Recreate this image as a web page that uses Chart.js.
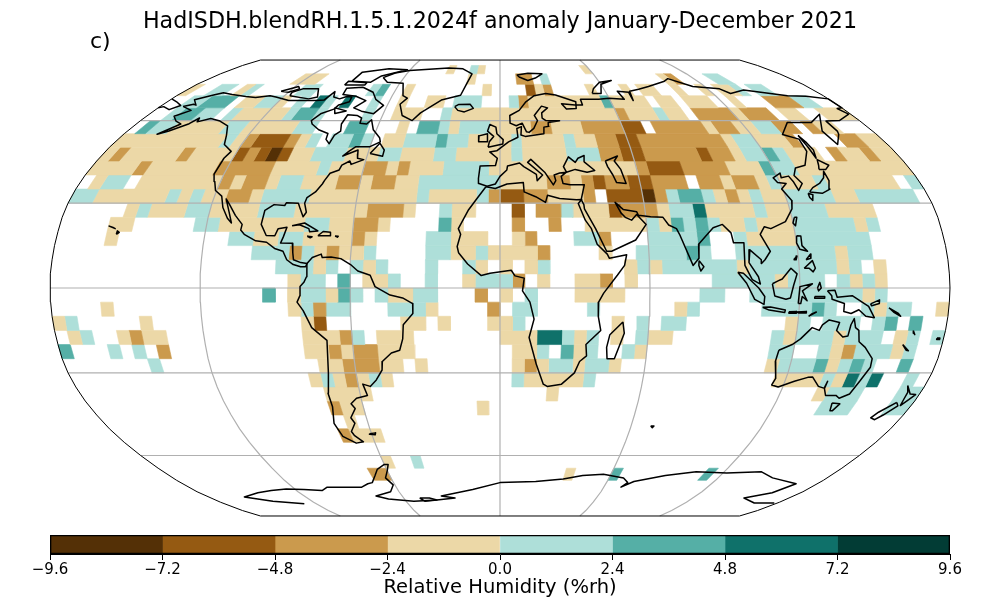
<!DOCTYPE html>
<html>
<head>
<meta charset="utf-8">
<title>HadISDH anomaly</title>
<script src="https://cdn.jsdelivr.net/npm/chart.js@4"></script>
<style>
html, body { margin: 0; background: #fff; overflow: hidden; }
canvas { position: absolute; left: 0; }
#map { top: 0; }
#bar { top: 534px; }
</style>
</head>
<body>
<canvas id="map" width="1000" height="600"></canvas>
<canvas id="bar" width="1000" height="66"></canvas>
<script>
"use strict";

// colour classes, anomaly in %rh
const levelEdges = [-9.6, -7.2, -4.8, -2.4, 0, 2.4, 4.8, 7.2, 9.6];
const levelColors = ['#543006', '#955a12', '#cb9a4d', '#ecd8a7', '#aedfd9', '#55afa6', '#0f716a', '#023c35'];
const barTicks = [-9.6, -7.2, -4.8, -2.4, 0, 2.4, 4.8, 7.2, 9.6];

// read-off anomaly per class
const D = -8.4, B = -6, C = -3.6, T = -1.2, L = 1.2, M = 3.6, G = 6;

// grid cell runs per 5 degree band: [lon west, lon east, anomaly], named by south edge
const n80 = [[-35,-30,T],[-20,-15,L],[-15,-10,T],[55,60,T]];
const n75 = [[-125,-110,T],[-20,-15,T],[10,20,C],[25,30,L],[100,105,T],[105,110,C],[130,140,L]];
const n70 = [[-180,-175,T],[-165,-155,L],[-150,-145,T],[-145,-140,L],[-115,-105,L],[-75,-70,L],[-70,-65,M],[-55,-50,T],[-10,-5,T],[15,20,B],[20,25,T],[25,30,C],[50,55,T],[70,75,T],[80,90,T],[100,105,T],[115,120,T],[125,135,T],[135,140,L],[145,155,L]];
const n65 = [[-170,-160,L],[-160,-145,M],[-140,-130,T],[-130,-120,L],[-120,-115,T],[-110,-105,L],[-100,-95,G],[-95,-90,L],[-85,-80,G],[-70,-65,L],[-55,-50,T],[-40,-30,T],[-25,-10,L],[5,10,L],[10,15,C],[15,55,T],[55,60,M],[60,80,T],[85,95,T],[100,115,T],[125,130,T],[145,160,C],[160,170,L]];
const n60 = [[-170,-165,L],[-165,-155,M],[-155,-145,L],[-140,-135,L],[-135,-110,T],[-110,-105,L],[-105,-95,M],[-95,-90,L],[-70,-65,L],[-55,-40,T],[-30,-25,L],[-25,60,T],[60,65,C],[65,80,T],[80,85,L],[85,95,T],[100,120,C],[120,125,T],[125,140,C],[145,155,T],[165,180,T]];
const n55 = [[-175,-170,M],[-170,-160,L],[-160,-135,T],[-135,-125,L],[-125,-100,T],[-100,-90,L],[-75,-65,M],[-50,-45,T],[-40,-30,M],[-30,-25,L],[-25,-20,T],[-20,-5,L],[-5,15,T],[15,25,C],[25,40,T],[40,60,C],[60,70,B],[75,100,C],[100,105,T],[105,115,C],[115,125,T],[125,135,L],[135,145,C],[150,155,C],[155,165,T]];
const n50 = [[-180,-130,T],[-130,-125,L],[-125,-120,T],[-120,-115,C],[-115,-100,B],[-100,-95,C],[-95,-90,T],[-90,-85,L],[-80,-70,L],[-70,-65,M],[-65,-60,L],[-55,-45,T],[-45,-30,L],[-30,-25,M],[-25,-15,L],[-15,5,T],[5,10,L],[10,30,T],[30,35,L],[35,45,T],[45,55,C],[55,65,B],[65,105,C],[105,110,T],[110,120,L],[120,135,T],[135,140,C],[160,170,C],[170,180,T]];
const n45 = [[-180,-175,T],[-175,-170,C],[-170,-145,T],[-145,-140,C],[-140,-120,T],[-120,-115,B],[-115,-110,C],[-110,-105,B],[-105,-100,D],[-100,-95,B],[-95,-85,T],[-85,-70,L],[-70,-55,T],[-55,-45,L],[-45,-30,T],[-30,-20,L],[-20,5,T],[5,10,L],[10,30,T],[30,45,L],[45,55,C],[55,65,B],[65,90,C],[90,95,B],[95,105,C],[105,110,T],[110,120,L],[120,125,M],[125,130,L],[130,145,T],[150,155,C],[155,165,T],[165,170,C],[170,180,T]];
const n40 = [[-180,-160,T],[-160,-155,C],[-155,-125,T],[-125,-100,C],[-100,-80,T],[-80,-75,L],[-75,-60,T],[-60,-50,C],[-50,-45,T],[-45,-40,C],[-40,-25,T],[-25,-5,L],[-5,60,T],[60,65,C],[65,80,B],[80,100,C],[100,115,T],[115,120,M],[120,130,L],[130,180,T]];
const n35 = [[-175,-170,T],[-170,-160,L],[-155,-120,T],[-120,-115,C],[-115,-110,T],[-110,-100,C],[-100,-95,T],[-95,-85,L],[-85,-70,T],[-70,-60,C],[-60,-55,T],[-55,-45,C],[-45,-35,T],[-35,0,L],[0,20,T],[20,30,C],[30,35,T],[35,40,C],[40,45,B],[45,55,C],[55,65,B],[65,80,C],[85,95,C],[95,100,T],[100,110,C],[110,115,T],[115,120,L],[120,135,T],[135,140,L],[140,170,T],[175,180,L]];
const n30 = [[-180,-170,L],[-170,-140,T],[-140,-135,L],[-135,-130,T],[-130,-125,L],[-125,-115,T],[-115,-105,C],[-105,-100,T],[-100,-80,L],[-80,-35,T],[-35,-30,L],[-30,-10,T],[-10,-5,L],[-5,0,C],[0,10,B],[10,20,C],[20,35,T],[35,40,C],[45,60,B],[60,65,D],[65,70,C],[70,75,L],[75,85,M],[85,90,L],[90,95,T],[95,100,C],[100,105,T],[105,110,L],[110,120,T],[120,140,L],[140,150,T],[150,175,L]];
const n25 = [[-155,-150,T],[-150,-145,L],[-145,-130,T],[-130,-120,L],[-120,-100,T],[-100,-85,L],[-85,-55,T],[-55,-40,C],[-40,-35,T],[-25,-20,L],[-20,-10,T],[5,10,B],[15,25,C],[25,30,L],[30,45,T],[45,50,B],[50,65,C],[65,70,T],[70,80,L],[80,85,G],[85,105,T],[105,110,L],[110,120,T],[120,135,L],[135,155,T]];
const n20 = [[-160,-150,T],[-125,-115,L],[-115,-80,T],[-80,-70,L],[-70,-60,T],[-60,-50,C],[-50,-45,T],[-25,-20,M],[-20,-15,T],[5,10,C],[20,25,C],[35,60,T],[60,65,L],[65,70,T],[70,75,M],[75,80,L],[80,85,M],[85,90,L],[90,100,T],[100,105,L],[105,120,T],[120,145,L],[145,150,T],[150,155,L]];
const n15 = [[-160,-155,T],[-110,-100,L],[-100,-90,T],[-90,-80,L],[-80,-60,T],[-60,-55,C],[-55,-50,T],[-30,-20,L],[-20,-5,T],[5,10,T],[10,15,C],[30,40,L],[40,45,C],[60,80,L],[80,85,M],[95,100,L],[100,120,T],[120,150,L]];
const n10 = [[-100,-85,L],[-85,-80,C],[-80,-75,L],[-75,-70,T],[-70,-65,C],[-65,-55,T],[-55,-50,L],[-30,-20,L],[-20,-10,T],[-10,-5,L],[-5,15,T],[15,20,C],[40,45,T],[55,75,L],[75,80,M],[80,85,L],[95,135,L],[135,140,T],[140,150,L]];
const n5 = [[-90,-75,L],[-75,-70,T],[-70,-65,L],[-60,-55,L],[-55,-50,T],[-50,-45,L],[-30,-25,L],[-15,-10,L],[-10,-5,T],[0,5,T],[10,15,T],[15,20,L],[50,55,T],[55,60,L],[60,65,T],[65,95,L],[95,100,T],[100,135,L],[135,140,T],[140,145,L],[150,155,T]];
const n0 = [[-85,-80,T],[-80,-70,L],[-65,-60,M],[-55,-45,T],[-45,-40,L],[-30,-25,L],[-15,-10,T],[-10,5,L],[5,10,C],[15,20,T],[30,40,T],[40,45,C],[50,55,T],[85,110,L],[110,115,T],[115,130,L],[135,140,L],[140,145,T],[145,150,L],[150,155,T]];
const s5 = [[-95,-90,M],[-85,-80,T],[-80,-70,L],[-70,-65,T],[-65,-60,M],[-60,-55,L],[-50,-45,L],[-45,-35,T],[-35,-25,L],[-10,-5,C],[0,5,T],[10,15,L],[30,50,T],[80,90,L],[100,145,L],[145,150,T],[150,155,L]];
const s10 = [[-160,-155,T],[-85,-80,T],[-80,-75,L],[-75,-70,C],[-70,-60,L],[-45,-30,L],[-30,-25,T],[-5,0,C],[5,15,L],[35,40,L],[70,75,T],[75,80,L],[105,125,L],[125,130,M],[130,135,L],[145,150,L],[150,155,T],[155,165,L],[175,180,T]];
const s15 = [[-180,-175,T],[-175,-170,L],[-145,-140,T],[-80,-75,T],[-75,-70,B],[-40,-30,T],[-25,-20,T],[-5,5,T],[5,10,L],[45,50,T],[55,60,L],[65,75,L],[115,120,T],[120,125,L],[130,145,L],[150,155,L],[155,160,M],[165,170,M]];
const s20 = [[-175,-170,T],[-170,-165,L],[-155,-150,T],[-150,-145,C],[-145,-135,T],[-80,-65,T],[-65,-60,C],[-60,-55,L],[-50,-35,T],[0,15,T],[15,25,G],[25,30,L],[30,35,T],[35,40,L],[45,50,T],[55,60,L],[60,70,T],[110,115,L],[115,120,T],[120,135,L],[135,140,T],[140,155,L],[160,165,T],[165,170,L],[175,180,L]];
const s25 = [[-180,-175,M],[-160,-155,L],[-150,-145,L],[-140,-135,C],[-80,-70,T],[-70,-65,C],[-65,-60,T],[-60,-50,C],[-50,-35,T],[5,15,T],[15,20,L],[25,30,M],[30,35,T],[35,40,L],[50,55,L],[55,60,T],[110,120,L],[130,135,L],[135,140,T],[140,145,C],[145,160,L],[160,165,T],[165,170,L]];
const s30 = [[-145,-140,L],[-75,-65,T],[-65,-50,C],[-50,-40,T],[-35,-30,T],[5,10,T],[10,15,C],[15,20,T],[20,30,L],[30,35,T],[35,45,L],[45,50,T],[110,115,T],[115,130,L],[130,135,M],[135,140,T],[140,145,L],[145,150,M],[150,155,L],[165,170,M]];
const s35 = [[-80,-75,T],[-75,-70,L],[-70,-65,T],[-65,-60,C],[-60,-55,T],[-55,-50,L],[-50,-45,T],[5,10,L],[10,35,T],[35,40,L],[115,135,T],[135,140,L],[140,145,T],[145,150,G],[150,155,L],[155,160,G],[170,175,L]];
const s40 = [[-75,-55,T],[20,25,T],[135,140,T],[140,155,L],[170,180,L]];
const s45 = [[-75,-70,C],[-70,-60,T],[-10,-5,T],[140,155,L],[170,180,L]];
const s50 = [[-70,-65,T]];
const s55 = [[-75,-70,C],[-70,-55,T]];
const s65 = [[-60,-55,T],[-45,-40,L]];
const s70 = [[-70,-60,C],[35,40,T],[60,65,M],[110,115,M]];

const bands = [
    [80, n80], [75, n75], [70, n70], [65, n65], [60, n60], [55, n55], [50, n50], [45, n45], [40, n40],
    [35, n35], [30, n30], [25, n25], [20, n20], [15, n15], [10, n10], [5, n5], [0, n0], [-5, s5],
    [-10, s10], [-15, s15], [-20, s20], [-25, s25], [-30, s30], [-35, s35], [-40, s40], [-45, s45],
    [-50, s50], [-55, s55], [-65, s65], [-70, s70]
];

// coastlines as lon, lat
const northAmerica = [[-168,65.6],[-164,66.5],[-162,66.1],[-166.8,68.3],[-163,69.5],[-160,70.3],[-156.5,71.3],[-150,70.5],[-141,69.7],[-135,69.3],[-128,70],[-124,69.5],[-115,68],[-108,68],[-100,68],[-96,68.2],[-94,71.8],[-92,69.5],[-88,68.7],[-85,69.7],[-82,69.5],[-81.5,67.5],[-86,66.2],[-87,64.5],[-92,62.8],[-94.5,60],[-93,58.7],[-88,56.5],[-82.5,55.1],[-82,52.9],[-79.5,51.3],[-79,54.5],[-77,56],[-78.5,58.7],[-78,62.3],[-73,62],[-70,61],[-69.5,59],[-66,58.7],[-64.5,60.3],[-61.5,56.5],[-57,53.5],[-56,52],[-60,50.2],[-66.5,50.2],[-69,48.5],[-71,46.8],[-65,49],[-64.5,47.5],[-64,46],[-61,45.5],[-66,43.8],[-67,45],[-70,43.5],[-70.5,41.8],[-74,40.6],[-75.5,38],[-76,36.8],[-78,34],[-81,32],[-81.4,30],[-80,26.8],[-81,25.2],[-82.8,28],[-84,30],[-89,30.2],[-89.5,29.2],[-94,29.5],[-97.3,27.5],[-97.7,22.5],[-95,18.6],[-91.5,18.5],[-90.5,21],[-87,21.5],[-88,18],[-88.8,15.9],[-84,15.8],[-83.5,12.5],[-83,10],[-80,9],[-77.5,8.7],[-78,7.5],[-80,7.5],[-83,8.3],[-85.7,10],[-87.5,13],[-91,14],[-94.5,16.2],[-99,16.7],[-104,19],[-105.7,20.5],[-105.5,22.5],[-109,25.7],[-112.5,29.5],[-114.7,31.5],[-112,27],[-110,23],[-112,24.7],[-115,28.5],[-117,32.5],[-120.5,34.5],[-122.5,37.7],[-124.3,40.3],[-124,46],[-122.7,48.5],[-128,51],[-130.5,54.5],[-134,58],[-140,59.8],[-146,60.8],[-151,59.5],[-152,61],[-154,58.8],[-160,56],[-164,54.8],[-158,58.7],[-162,59.8],[-166,61.7],[-161,64],[-168,65.6]];
const southAmerica = [[-77.5,8.7],[-75.5,10.8],[-72,12],[-71.5,10.8],[-68,11],[-64,10.4],[-60,8.3],[-57,6],[-52,4.5],[-50,0.5],[-44,-2.5],[-39,-3.5],[-35,-5.5],[-35,-9],[-39,-13],[-39.5,-18],[-41,-22],[-44.5,-23],[-48.5,-26],[-49,-29],[-52,-32.5],[-55,-34.8],[-58,-34],[-57,-38],[-62,-39],[-65,-41],[-63.8,-42.7],[-67,-46],[-66,-48],[-69,-51],[-68.4,-52.4],[-65.3,-54.8],[-69,-55.3],[-74,-52.8],[-75.5,-48],[-73.5,-42],[-73.7,-37.2],[-71.5,-30],[-70.3,-18.5],[-76,-14],[-79,-8],[-81.3,-5],[-80,-2.5],[-80,0.5],[-78.5,2],[-77.5,4],[-77.5,7],[-77.5,8.7]];
const africa = [[-6,35.8],[-2,35.2],[3,36.8],[10,37.3],[10.2,34],[15,32.3],[19,30.3],[20,32.8],[25,31.7],[32,31.2],[34.2,31.3],[32.6,29.9],[35,24],[37.3,21],[39.3,15.5],[43.2,12],[44,10.5],[51,11.8],[50,8],[47,4.5],[41.5,-1.8],[39.5,-5],[39.5,-10],[40.7,-15],[35,-20],[35.5,-24],[32.8,-26],[31,-30],[26,-34],[20,-34.8],[18.3,-34],[15,-27],[11.8,-17.5],[13.7,-11],[12,-5],[9,-1],[9.7,3.5],[6,4.3],[4.5,6.3],[-4,5.2],[-7.5,4.4],[-13,8.5],[-16.7,12.5],[-17.3,14.7],[-16,19],[-17,21],[-13,27.7],[-9.8,31.5],[-6,35.8]];
const eurasia = [[-5.5,36],[-9,37],[-9.3,38.8],[-8.8,43.2],[-2,43.4],[-1.2,46],[-4.7,48.3],[-1.5,48.7],[1.5,50.5],[4,52],[8.5,53.7],[8.2,57],[10.5,57.7],[10,54.5],[12,54],[18.5,54.7],[21,55],[21.5,57.5],[24,57.8],[24,59.3],[29.8,59.9],[23,60],[21.3,61],[21.5,63],[25,65],[22,65.7],[17.5,62],[18.8,60],[16.5,57],[14,55.5],[12.8,55.7],[11,59],[8,58],[5,59],[5,62],[10,64],[14,67.5],[19,70],[25.7,71],[31,70.3],[41,67.5],[40,64.7],[34.8,64.5],[33,66.7],[40,66.2],[44,66.2],[44,68.5],[54,68.5],[60,69],[68,68.5],[67,72],[73,71.5],[72.5,68],[74,72],[80,72.8],[87,74],[100,76.5],[104,77.7],[113,74],[127,73],[130,71],[140,72.5],[160,70],[170,69.8],[180,68.7],[180,65],[177,64.7],[179,62.5],[170,60],[163,59.8],[163,56],[162,54.8],[156.8,51],[155.7,56],[164,62.5],[155,59.3],[143,59.3],[135,54.7],[141,53],[140,48.5],[135,43.5],[130,42.5],[127.5,39.8],[129.4,37],[126.5,34.5],[126,37.5],[125,39.6],[121.5,39],[122,40.7],[118,39],[119,37.3],[122.5,37],[119.5,35],[122,31],[121,28],[117,23.5],[110.5,21],[108,21.7],[105.8,19],[109,13],[106.5,10],[105,8.7],[105,10],[100.8,13.5],[100,9],[103.5,4],[104.2,1.4],[101,3],[98.3,8],[98.7,16],[94.5,16],[94,19.5],[91,22.5],[87,21.3],[80.3,15.5],[80,10.5],[77.5,8],[73,19],[72,21],[69,22.3],[67,25],[62,25.2],[57,25.7],[56.5,27],[51,27.8],[48,30.3],[50,26.5],[51.5,25],[54,24],[56.3,26],[59.8,22.5],[55,17],[45,13],[43,13],[39,21],[35,28],[34.9,29.5],[34,31.3],[36,36.5],[30,36.5],[27,37],[26.5,39.5],[29,41],[33,42],[38,41],[41.5,41.6],[37.5,44.7],[38,47],[35,46],[33.5,44.5],[30.8,46.5],[28,43],[29,41],[26,40.7],[23.5,40],[24,38],[22.8,36.5],[19.5,41],[13.8,45.6],[12.3,44.5],[18.5,40],[16,38],[15.8,40.2],[10.5,43],[8.7,44.3],[3.3,43.2],[3,41.8],[0,39.5],[-2,36.8],[-5.5,36]];
const chukotka = [[-180,68.7],[-175,67.5],[-170,66],[-173,64.3],[-178,65.5],[-180,65]];
const caspian = [[47,45],[53,46.8],[51,45],[53,42],[54,37],[50,37.3],[49,40],[47.5,43],[47,45]];
const greenland = [[-73,78.2],[-68,76],[-58,75.5],[-54,70],[-51,69],[-53.5,66.5],[-50,62],[-44,60],[-41,63],[-32,68.2],[-22,70.2],[-20,75],[-18,80],[-25,83],[-35,83.5],[-60,82],[-68,80.5],[-73,78.2]];
const antarctica = [[-128,-81],[-145,-79.5],[-158,-77.5],[-145,-75.5],[-135,-74.5],[-125,-73.8],[-115,-74],[-105,-74.5],[-100,-73],[-90,-73],[-80,-73],[-75,-71.5],[-72,-71],[-68,-68],[-65,-65.5],[-60,-63.5],[-58,-63.5],[-60,-66],[-63,-69],[-61,-72],[-65,-75],[-76,-77],[-70,-78.5],[-55,-79.5],[-40,-79],[-28,-78],[-36,-77],[-16,-74],[0,-71],[20,-70.5],[35,-69.5],[45,-68],[56,-67.5],[68,-69],[72,-71],[70,-73],[75,-70.5],[90,-68],[105,-66.5],[122,-67],[140,-66.5],[150,-69],[168,-71.5],[163,-75.5],[152,-78],[165,-80.5],[178,-80.5]];
const islands = [
    [[-5.5,50],[1.3,51.2],[1.5,52.8],[-1.5,55],[-2,57.5],[-5,58.5],[-6,56],[-3,54],[-5,52],[-5.5,50]],
    [[-10,52],[-6,52],[-6,55],[-10,54.2],[-10,52]],
    [[-24,65.5],[-22,64],[-18.5,63.4],[-14,64.8],[-16,66.5],[-22,66.4],[-24,65.5]],
    [[12,78.5],[17,76.8],[22,78],[27,80],[18,80.3],[11,79.5],[12,78.5]],
    [[52,71],[57,71],[60,75],[68,76.8],[60,76],[54,73],[52,71]],
    [[-80,73.7],[-72,71.5],[-68,68.5],[-62,66],[-65,62.7],[-72,63.7],[-77,65],[-73,68],[-80,69.8],[-88,70.5],[-89,73.3],[-80,73.7]],
    [[-117,70],[-105,68.7],[-101,69.5],[-105,73],[-114,73],[-118,71.5],[-117,70]],
    [[-125,72],[-118,74],[-116,73],[-120,71.5],[-125,72]],
    [[-90,76.5],[-78,76],[-75,79],[-62,82.5],[-75,83],[-90,81],[-90,76.5]],
    [[-92,74.7],[-80,74.7],[-80,75.7],[-92,76.5],[-92,74.7]],
    [[-87,65],[-80,63.8],[-85,62.8],[-87,65]],
    [[-59,47.7],[-53,46.7],[-53,49],[-56,51.5],[-59,47.7]],
    [[-85,22],[-80,23],[-74.2,20.2],[-77.5,19.9],[-78,21],[-82,22.4],[-85,22]],
    [[-74,18.5],[-69,18.5],[-69,19.7],[-72,20],[-74,18.5]],
    [[-78.3,18.3],[-76.3,18.1],[-77,17.8],[-78.3,18.3]],
    [[-67,18.4],[-65.7,18.3],[-66,18],[-67,18.4]],
    [[-156,19],[-155,19.7],[-155.9,20.2],[-156,19]],
    [[-160,22],[-158,21.4],[-157,21],[-160,22]],
    [[49.5,-12],[50.3,-16],[47,-25],[44,-25],[43.5,-21],[44.5,-16.5],[49.5,-12]],
    [[80,9.7],[81.8,7.5],[80.5,6],[79.8,8],[80,9.7]],
    [[130.9,34],[136,33.5],[140,35],[141.5,38],[141.5,41.3],[139.8,39],[136.8,37],[133,35.5],[130.9,34]],
    [[130,33.5],[131.8,33],[130.8,31],[130,32],[130,33.5]],
    [[140,42],[143,42],[145.5,43.5],[142,45.5],[141,43.5],[140,42]],
    [[142,54.3],[143,52],[143.5,49],[142,46],[142,50],[142,54.3]],
    [[121,25],[122,25],[120.8,22],[120,23],[121,25]],
    [[120.5,18.5],[122.2,18.4],[122,15],[124,13],[121,13.7],[120,16],[120.5,18.5]],
    [[122,7],[125.5,9.7],[126.5,7],[125.5,5.7],[124,7],[122,7]],
    [[123,10],[125,12],[125,10.5],[123,10]],
    [[118,10],[119.5,11.3],[119,10],[118,10]],
    [[95.3,5.6],[97.5,5.2],[103.5,0],[106,-3],[105.8,-5.8],[102,-4],[98.7,1.7],[95.3,5.6]],
    [[105.3,-6.8],[108.5,-6.7],[114.5,-7.8],[114.3,-8.7],[108,-7.8],[105.3,-6.8]],
    [[109,1.5],[111.3,2.5],[113,3.2],[116.7,7],[119,5],[117.5,1],[116.3,-3.5],[114.5,-4],[110,-2.8],[109,1.5]],
    [[119.5,-5.5],[120,0.5],[125,1.5],[121,-1],[123,-4.5],[121,-3],[120.5,-5.5],[119.5,-5.5]],
    [[131,-1],[134,-0.8],[135,-3.3],[141,-2.7],[146,-5.5],[147.8,-6.5],[150.5,-10.5],[147,-10],[144,-7.7],[141,-9],[138,-8.3],[138,-5.5],[133,-4],[132.8,-2.7],[131,-1]],
    [[124,-10],[127,-8.5],[125,-9.3],[124,-10]],
    [[119,-8.5],[123,-8.3],[123,-8.8],[119.8,-8.8],[119,-8.5]],
    [[116,-8.4],[119,-8.3],[119,-8.9],[116,-8.9],[116,-8.4]],
    [[127,0],[128,2],[128.5,0],[127.5,-1],[127,0]],
    [[126,-3],[130,-3],[130,-3.6],[126,-3.6],[126,-3]],
    [[148.5,-5.6],[152,-4.2],[152,-5.5],[149,-6.3],[148.5,-5.6]],
    [[156,-7],[160,-9],[161,-10],[158,-8.5],[156,-7]],
    [[164,-20],[167,-22.2],[166,-22],[164,-20]],
    [[167,-15],[168,-16.5],[167.5,-16],[167,-15]],
    [[177.3,-17.7],[178.5,-17.7],[178.5,-18.2],[177.3,-18.2],[177.3,-17.7]],
    [[114,-22],[113.5,-26],[115.7,-32],[115,-34.3],[118,-35],[124,-33],[129,-31.6],[131,-31.5],[135,-34.8],[138,-35.5],[138,-33],[137.8,-35.3],[140,-38],[144.5,-38],[146.5,-39],[150,-37.5],[151.5,-33],[153.5,-28],[153,-25],[149,-21],[146,-19],[145,-15],[143.5,-14],[142.5,-10.8],[141.5,-13],[141,-17],[139,-17.3],[136,-15],[136.8,-12.2],[132.5,-11.3],[130,-13],[129,-15],[126,-14],[122,-18],[119,-20],[114,-22]],
    [[144.7,-40.7],[148.3,-41],[147,-43.5],[146,-43.5],[144.7,-40.7]],
    [[172.7,-34.5],[176,-37.5],[178.5,-37.7],[177,-39.5],[175.3,-41.6],[174.8,-39.8],[174.5,-37],[172.7,-34.5]],
    [[172.7,-40.5],[174.3,-41.7],[171,-45],[169,-46.7],[166.5,-46],[168,-44],[172.7,-40.5]],
    [[-61,-51.8],[-58,-51.5],[-58.5,-52.2],[-61,-52],[-61,-51.8]],
    [[69,-49],[70.5,-49],[70,-49.6],[69,-49]],
    [[-50,-78],[-44,-78],[-40,-79],[-48,-79.5],[-50,-78]]
];

// Robinson table, every 5 degrees
const robinsonLen = [1, 0.9986, 0.9954, 0.99, 0.9822, 0.973, 0.96, 0.9427, 0.9216, 0.8962, 0.8679, 0.835, 0.7986, 0.7597, 0.7186, 0.6732, 0.6213, 0.5722, 0.5322];
const robinsonDepth = [0, 0.062, 0.124, 0.186, 0.248, 0.31, 0.372, 0.434, 0.4958, 0.5571, 0.6176, 0.6769, 0.7346, 0.7903, 0.8435, 0.8936, 0.9394, 0.9761, 1];

function tableAt(table, lat) {
    const p = Math.min(Math.abs(lat) / 5, 17.999);
    const i = Math.floor(p);
    return table[i] + (table[i + 1] - table[i]) * (p - i);
}

// lon, lat to the map's own units
function project(lon, lat) {
    return { x: lon * tableAt(robinsonLen, lat), y: Math.sign(lat) * tableAt(robinsonDepth, lat) };
}

function colorFor(v) {
    for (let i = 0; i < levelColors.length; i++) {
        if (v < levelEdges[i + 1]) return levelColors[i];
    }
    return levelColors[levelColors.length - 1];
}

const datasets = [];

// grid cells, lowest layer
bands.forEach(([south, runs]) => {
    runs.forEach(([w, e, v]) => {
        const n = south + 5;
        const col = colorFor(v);
        datasets.push({
            data: [project(w, n), project(e, n), project(e, south), project(w, south), project(w, n)],
            backgroundColor: col, borderColor: col, borderWidth: 0.6,
            fill: 'shape', pointRadius: 0, order: 3
        });
    });
});

function addLine(points, color, width, order) {
    datasets.push({
        data: points, borderColor: color, borderWidth: width, fill: false,
        pointRadius: 0, tension: 0, order: order, clip: false, borderJoinStyle: 'round'
    });
}

// parallels and meridians
const gridLats = [-60, -30, 0, 30, 60];
const gridLons = [-120, -60, 0, 60, 120];
gridLats.forEach(lat => addLine([project(-180, lat), project(180, lat)], '#b0b0b0', 1.2, 2));
const latSteps = [];
for (let lat = -90; lat <= 90; lat += 5) latSteps.push(lat);
gridLons.forEach(lon => addLine(latSteps.map(lat => project(lon, lat)), '#b0b0b0', 1.2, 2));

// coasts
[northAmerica, southAmerica, africa, eurasia, chukotka, caspian, greenland, antarctica].concat(islands).forEach(c => {
    addLine(c.map(p => project(p[0], p[1])), '#000', 1.5, 1);
});

// map outline
const outline = latSteps.map(lat => project(-180, lat)).concat(latSteps.slice().reverse().map(lat => project(180, lat)));
outline.push(outline[0]);
addLine(outline, '#000', 1, 0);

const panelLabel = {
    id: 'panelLabel',
    afterDraw(chart) {
        const ctx = chart.ctx;
        ctx.save();
        ctx.font = '22px "DejaVu Sans"';
        ctx.fillStyle = '#000';
        ctx.fillText('c)', 90, 48);
        ctx.restore();
    }
};

new Chart(document.getElementById('map'), {
    type: 'line',
    data: { datasets: datasets },
    plugins: [panelLabel],
    options: {
        responsive: false,
        animation: false,
        devicePixelRatio: 1,
        layout: { padding: { left: 50, right: 50, top: 0, bottom: 84 } },
        scales: {
            x: { type: 'linear', min: -180, max: 180, display: false },
            y: { type: 'linear', min: -1, max: 1, display: false }
        },
        plugins: {
            legend: { display: false },
            tooltip: { enabled: false },
            title: {
                display: true,
                text: 'HadISDH.blendRH.1.5.1.2024f anomaly January-December 2021',
                color: '#000',
                font: { family: 'DejaVu Sans', size: 22.2, weight: 'normal' },
                padding: { top: 9, bottom: 24.4 }
            }
        }
    }
});

// colour bar
const barSets = levelColors.map((col, i) => ({
    data: [[levelEdges[i], levelEdges[i + 1]]],
    backgroundColor: col, borderWidth: 0, order: 2
}));
barSets.push({
    data: [[levelEdges[0], levelEdges[8]]],
    backgroundColor: 'rgba(0,0,0,0)', borderColor: '#000', borderWidth: 1, borderSkipped: false, order: 1
});

new Chart(document.getElementById('bar'), {
    type: 'bar',
    data: { labels: ['anomaly'], datasets: barSets },
    options: {
        indexAxis: 'y',
        responsive: false,
        animation: false,
        devicePixelRatio: 1,
        grouped: false,
        barPercentage: 1,
        categoryPercentage: 1,
        layout: { padding: { left: 50, right: 50, top: 1, bottom: 0 } },
        scales: {
            y: { display: false },
            x: {
                type: 'linear',
                min: levelEdges[0],
                max: levelEdges[8],
                afterBuildTicks: axis => { axis.ticks = barTicks.map(v => ({ value: v })); },
                afterFit: axis => { axis.height = 46; },
                grid: { drawOnChartArea: false, drawTicks: true, tickLength: 6, color: '#000' },
                border: { color: '#000' },
                ticks: {
                    color: '#000',
                    padding: 1,
                    maxRotation: 0,
                    autoSkip: false,
                    font: { family: 'DejaVu Sans', size: 15 },
                    callback: v => v.toFixed(1).replace('-', '\u2212')
                },
                title: {
                    display: true,
                    text: 'Relative Humidity (%rh)',
                    color: '#000',
                    padding: 0,
                    font: { family: 'DejaVu Sans', size: 19.5 }
                }
            }
        },
        plugins: { legend: { display: false }, tooltip: { enabled: false } }
    }
});
</script>
</body>
</html>
